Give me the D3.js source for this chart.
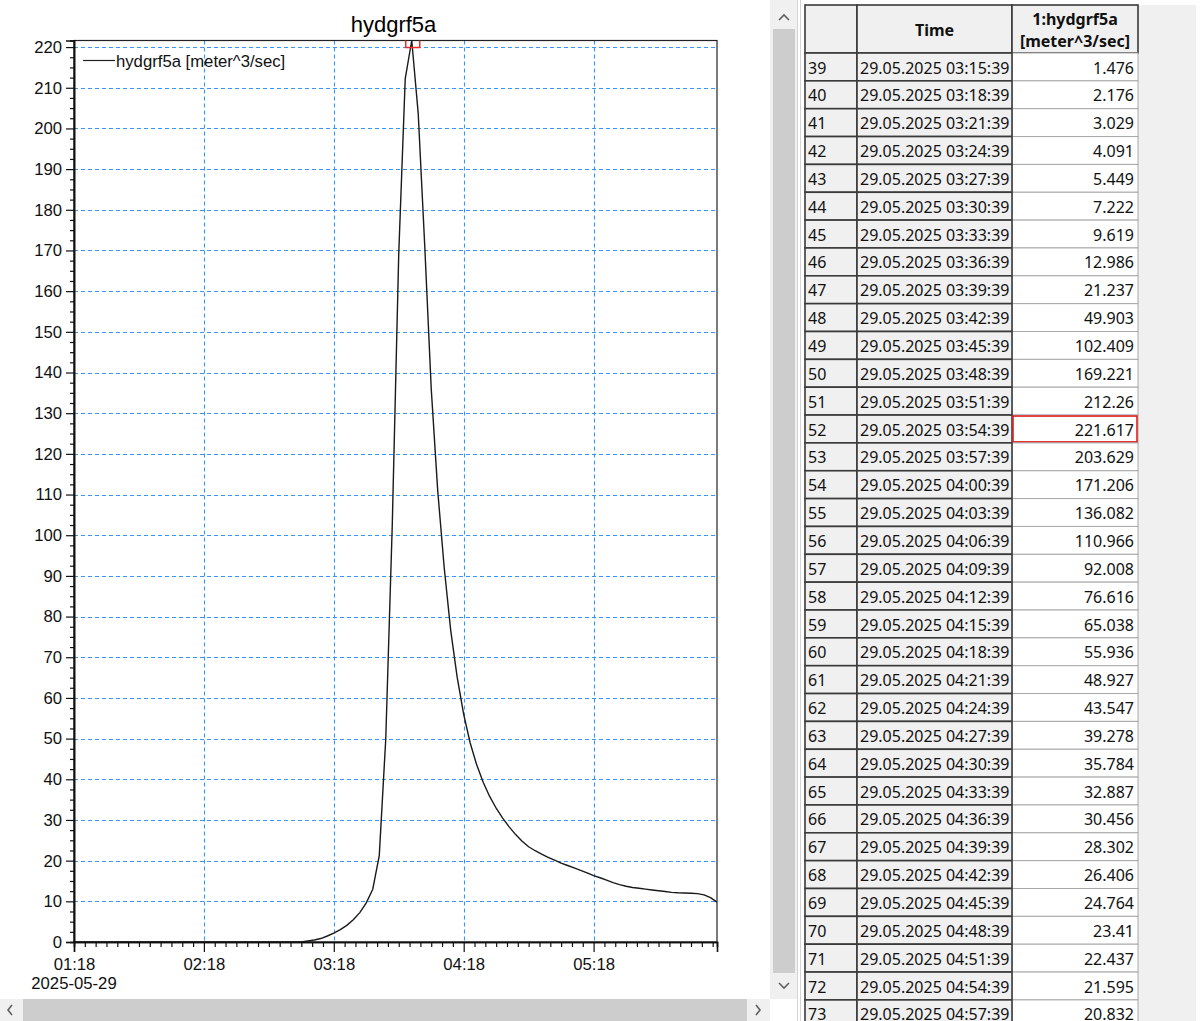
<!DOCTYPE html>
<html>
<head>
<meta charset="utf-8">
<script src="https://cdn.jsdelivr.net/npm/d3@7"></script>
<style>
  html, body { margin: 0; padding: 0; background: #ffffff; }
  svg { display: block; }
</style>
</head>
<body>
<svg id="chart" width="1202" height="1021"></svg>
<script>
// ---------------- DATA ----------------
const chartTitle = "hydgrf5a";
const seriesLabel = "hydgrf5a [meter^3/sec]";
const dateLabel = "2025-05-29";
const startTime = "2025-05-29 01:18:39";
const stepMinutes = 3;
// flow values, one per row (row 0 .. 99)
const flowValues = [
  0, 0, 0, 0, 0, 0, 0, 0, 0, 0,
  0, 0, 0, 0, 0, 0, 0, 0, 0, 0,
  0, 0, 0, 0, 0, 0, 0, 0, 0, 0,
  0, 0, 0, 0, 0, 0, 0.25, 0.5, 0.85, 1.476,
  2.176, 3.029, 4.091, 5.449, 7.222, 9.619, 12.986, 21.237, 49.903, 102.409,
  169.221, 212.26, 221.617, 203.629, 171.206, 136.082, 110.966, 92.008, 76.616, 65.038,
  55.936, 48.927, 43.547, 39.278, 35.784, 32.887, 30.456, 28.302, 26.406, 24.764,
  23.41, 22.437, 21.595, 20.832, 20.1, 19.4, 18.8, 18.2, 17.6, 17.0,
  16.3, 15.8, 15.2, 14.6, 14.1, 13.7, 13.4, 13.2, 13.0, 12.8,
  12.6, 12.4, 12.2, 12.1, 12.05, 12.0, 11.9, 11.6, 10.9, 9.8
];
const yTickValues = [0,10,20,30,40,50,60,70,80,90,100,110,120,130,140,150,160,170,180,190,200,210,220];
const xMajorTickMinutes = [0, 60, 120, 180, 240];
const tableFirstRow = 39;
const tableLastRow = 73;
const selectedRow = 52;
const tableHeaders = ["", "Time", ["1:hydgrf5a", "[meter^3/sec]"]];

// ---------------- SETUP ----------------
const parseT = d3.timeParse("%Y-%m-%d %H:%M:%S");
const t0 = parseT(startTime);
const rows = flowValues.map((v, i) => ({ id: i, time: d3.timeMinute.offset(t0, i * stepMinutes), value: v }));

const svg = d3.select("#chart");
const plot = { left: 74, right: 717, top: 40.5, bottom: 942 };

const x = d3.scaleTime()
  .domain([rows[0].time, rows[rows.length - 1].time])
  .range([plot.left, plot.right]);
const y = d3.scaleLinear()
  .domain([0, d3.max(flowValues)])
  .range([plot.bottom, plot.top]);

const chartFont = "'Liberation Sans', Arial, sans-serif";
const chartFontSize = 16.7;
const gridColor = "#3596f5";

// background
svg.append("rect").attr("x", 0).attr("y", 0).attr("width", 1202).attr("height", 1021).attr("fill", "#ffffff");

// clip
svg.append("defs").append("clipPath").attr("id", "plotclip")
  .append("rect").attr("x", plot.left).attr("y", plot.top)
  .attr("width", plot.right - plot.left).attr("height", plot.bottom - plot.top);

// title
svg.append("text")
  .attr("x", (plot.left + plot.right) / 2 - 2).attr("y", 32)
  .attr("text-anchor", "middle")
  .attr("font-family", chartFont).attr("font-size", 22).attr("fill", "#000")
  .text(chartTitle);

// grid
const majorTimes = xMajorTickMinutes.map(m => d3.timeMinute.offset(t0, m));
const grid = svg.append("g");
grid.selectAll("line.h").data(yTickValues.filter(v => v > 0)).join("line")
  .attr("x1", plot.left).attr("x2", plot.right)
  .attr("y1", d => Math.round(y(d)) + 0.5).attr("y2", d => Math.round(y(d)) + 0.5)
  .attr("stroke", gridColor).attr("stroke-width", 1.1).attr("stroke-dasharray", "4,3");
grid.selectAll("line.v").data(majorTimes.slice(1)).join("line")
  .attr("x1", d => Math.round(x(d)) + 0.5).attr("x2", d => Math.round(x(d)) + 0.5)
  .attr("y1", plot.top).attr("y2", plot.bottom)
  .attr("stroke", gridColor).attr("stroke-width", 1.1).attr("stroke-dasharray", "4,3");

// frame (top, right)
svg.append("rect")
  .attr("x", plot.left).attr("y", plot.top)
  .attr("width", plot.right - plot.left).attr("height", plot.bottom - plot.top)
  .attr("fill", "none").attr("stroke", "#222").attr("stroke-width", 1.2);

// data line
const line = d3.line().x(d => x(d.time)).y(d => y(d.value));
svg.append("path").datum(rows)
  .attr("clip-path", "url(#plotclip)")
  .attr("d", line).attr("fill", "none")
  .attr("stroke", "#1a1a1a").attr("stroke-width", 1.4).attr("stroke-linejoin", "round");

// selected point marker
const sel = rows[selectedRow];
svg.append("rect")
  .attr("clip-path", "url(#plotclip)")
  .attr("x", x(sel.time) - 6).attr("y", y(sel.value) - 7)
  .attr("width", 14).attr("height", 14)
  .attr("fill", "none").attr("stroke", "#f02a2a").attr("stroke-width", 1.5);

// y axis
const yMinor = d3.range(0, 221, 2.5).filter(v => v % 10 !== 0);
const yAxisMinor = svg.append("g").attr("transform", `translate(${plot.left},0)`)
  .call(d3.axisLeft(y).tickValues(yMinor).tickSize(4).tickFormat(""));
const yAxis = svg.append("g").attr("transform", `translate(${plot.left},0)`)
  .call(d3.axisLeft(y).tickValues(yTickValues).tickSize(8).tickPadding(4).tickFormat(d3.format("d")));
[yAxisMinor, yAxis].forEach(g => {
  g.select(".domain").attr("stroke", "#111").attr("stroke-width", 1.6);
  g.selectAll(".tick line").attr("stroke", "#111").attr("stroke-width", 1.2);
});
yAxis.selectAll("text").attr("font-family", chartFont).attr("font-size", chartFontSize).attr("fill", "#111");

// x axis
const xMinor = d3.range(0, 298, 5).filter(m => m % 60 !== 0).map(m => d3.timeMinute.offset(t0, m));
const xAxisMinor = svg.append("g").attr("transform", `translate(0,${plot.bottom})`)
  .call(d3.axisBottom(x).tickValues(xMinor).tickSize(5).tickFormat(""));
const xAxis = svg.append("g").attr("transform", `translate(0,${plot.bottom})`)
  .call(d3.axisBottom(x).tickValues(majorTimes).tickSize(10).tickPadding(6).tickFormat(d3.timeFormat("%H:%M")));
[xAxisMinor, xAxis].forEach(g => {
  g.select(".domain").attr("stroke", "#111").attr("stroke-width", 1.6);
  g.selectAll(".tick line").attr("stroke", "#111").attr("stroke-width", 1.2);
});
xAxis.selectAll("text").attr("font-family", chartFont).attr("font-size", chartFontSize).attr("fill", "#111");
svg.append("text")
  .attr("x", plot.left).attr("y", 989).attr("text-anchor", "middle")
  .attr("font-family", chartFont).attr("font-size", chartFontSize).attr("fill", "#111")
  .text(dateLabel);

// legend
svg.append("line").attr("x1", 83).attr("x2", 115).attr("y1", 60.5).attr("y2", 60.5)
  .attr("stroke", "#222").attr("stroke-width", 1.2);
svg.append("text").attr("x", 116).attr("y", 66.5)
  .attr("font-family", chartFont).attr("font-size", chartFontSize).attr("fill", "#111")
  .text(seriesLabel);

// ---------------- UI CHROME ----------------
const chevron = (pts) => svg.append("polyline").attr("points", pts.map(p => p.join(",")).join(" "))
  .attr("fill", "none").attr("stroke", "#606060").attr("stroke-width", 1.6);

// horizontal scrollbar
svg.append("rect").attr("x", 0).attr("y", 999).attr("width", 773).attr("height", 22).attr("fill", "#f0f0f0");
svg.append("rect").attr("x", 23).attr("y", 999).attr("width", 724).attr("height", 22).attr("fill", "#cdcdcd");
chevron([[12, 1005], [8, 1010], [12, 1015]]);
chevron([[756, 1005], [760, 1010], [756, 1015]]);

// vertical scrollbar
svg.append("rect").attr("x", 770).attr("y", 0).attr("width", 28).attr("height", 999).attr("fill", "#f0f0f0");
svg.append("rect").attr("x", 773).attr("y", 29).attr("width", 22).attr("height", 944).attr("fill", "#cdcdcd");
chevron([[779, 20], [784, 15], [789, 20]]);
chevron([[779, 983], [784, 988], [789, 983]]);
svg.append("rect").attr("x", 770).attr("y", 999).attr("width", 30).attr("height", 22).attr("fill", "#ffffff");
svg.append("line").attr("x1", 797.5).attr("x2", 797.5).attr("y1", 0).attr("y2", 1021).attr("stroke", "#d4d4d4");
svg.append("line").attr("x1", 800.5).attr("x2", 800.5).attr("y1", 0).attr("y2", 1021).attr("stroke", "#d4d4d4");

// right gray area
svg.append("rect").attr("x", 1138).attr("y", 5).attr("width", 58).attr("height", 1016).attr("fill", "#f0f0f0");

// ---------------- TABLE ----------------
const tableFont = "'Noto Sans', 'Open Sans', sans-serif";
const cols = [
  { x0: 805, x1: 857 },
  { x0: 857, x1: 1012 },
  { x0: 1012, x1: 1138 }
];
const headTop = 5, headBottom = 53, rowH = 27.85;
const tableRows = rows.filter(r => r.id >= tableFirstRow && r.id <= tableLastRow);
const fmtTime = d3.timeFormat("%d.%m.%Y %H:%M:%S");
const tbl = svg.append("g");

// header
tableHeaders.forEach((h, i) => {
  const c = cols[i];
  tbl.append("rect").attr("x", c.x0).attr("y", headTop).attr("width", c.x1 - c.x0).attr("height", headBottom - headTop)
    .attr("fill", "#f0f0f0").attr("stroke", "#3a3a3a").attr("stroke-width", 1.6);
  const lines = Array.isArray(h) ? h : [h];
  lines.forEach((t, k) => {
    tbl.append("text")
      .attr("x", (c.x0 + c.x1) / 2)
      .attr("y", lines.length === 1 ? 36 : 25 + k * 22)
      .attr("text-anchor", "middle")
      .attr("font-family", tableFont).attr("font-size", 16).attr("font-weight", "bold").attr("fill", "#111")
      .text(t);
  });
});

const rg = tbl.selectAll("g.row").data(tableRows).join("g")
  .attr("transform", (d, i) => `translate(0,${headBottom + i * rowH})`);
// value cells
rg.append("rect").attr("x", cols[2].x0).attr("y", 0).attr("width", cols[2].x1 - cols[2].x0).attr("height", rowH)
  .attr("fill", "#ffffff").attr("stroke", "#a8a8a8").attr("stroke-width", 1);
// gray cells
[0, 1].forEach(ci => {
  rg.append("rect").attr("x", cols[ci].x0).attr("y", 0).attr("width", cols[ci].x1 - cols[ci].x0).attr("height", rowH)
    .attr("fill", "#f0f0f0").attr("stroke", "#3a3a3a").attr("stroke-width", 1.6);
});
rg.append("text").attr("x", cols[0].x0 + 3).attr("y", 20.5)
  .attr("font-family", tableFont).attr("font-size", 16).attr("fill", "#111")
  .text(d => d.id);
rg.append("text").attr("x", cols[1].x0 + 3).attr("y", 20.5)
  .attr("font-family", tableFont).attr("font-size", 16).attr("fill", "#111")
  .text(d => fmtTime(d.time));
rg.append("text").attr("x", cols[2].x1 - 4).attr("y", 20.5).attr("text-anchor", "end")
  .attr("font-family", tableFont).attr("font-size", 16).attr("fill", "#111")
  .text(d => String(d.value));
rg.filter(d => d.id === selectedRow).append("rect")
  .attr("x", cols[2].x0 + 1).attr("y", 1).attr("width", cols[2].x1 - cols[2].x0 - 2).attr("height", rowH - 2)
  .attr("fill", "none").attr("stroke", "#e02020").attr("stroke-width", 1.6);
</script>
</body>
</html>
